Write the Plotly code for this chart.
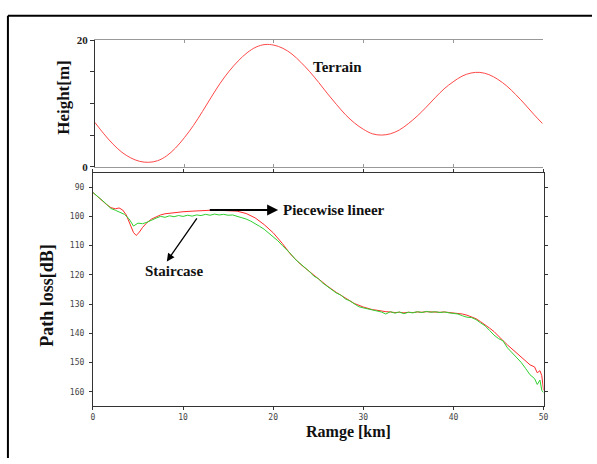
import plotly.graph_objects as go

# Terrain profile along the path
terrain_km = [0, 1, 2, 3, 4, 5, 6, 7, 8, 9, 10, 11, 12, 13, 14, 15, 16, 17, 18, 19, 20,
              21, 22, 23, 24, 25, 26, 27, 28, 29, 30, 31, 32, 33, 34, 35, 36, 37, 38, 39, 40,
              41, 42, 43, 44, 45, 46, 47, 48, 49, 50]
terrain_m = [7.0, 5.2, 3.6, 2.3, 1.4, 0.85, 0.7, 0.95, 1.7, 2.95, 4.6, 6.5, 8.7, 11.0, 13.2, 15.1,
             16.7, 18.0, 18.9, 19.3, 19.2, 18.7, 17.8, 16.5, 15.0, 13.3, 11.5, 9.8, 8.2, 6.9,
             5.9, 5.2, 5.0, 5.2, 5.8, 6.8, 8.0, 9.4, 10.9, 12.3, 13.4, 14.3, 14.8, 14.9, 14.55,
             13.8, 12.75, 11.4, 9.9, 8.3, 6.8]

# Path loss, piecewise linear terrain model
pl_linear_km = [0, 0.5, 1, 1.5, 2, 2.5, 2.9, 3.3, 3.7, 4.1, 4.5, 4.8, 5.1, 5.5, 6, 6.5, 7, 7.5, 8,
                9, 10, 11, 12, 13, 14, 15, 16, 17, 18, 19, 20, 21, 22, 23, 24, 25, 26, 27, 28,
                29, 30, 30.5, 31, 31.5, 32, 32.5, 33, 33.5, 34, 34.5, 35, 35.5, 36, 36.5, 37,
                37.5, 38, 38.5, 39, 39.5, 40, 40.5, 41, 41.5, 42, 42.5, 43, 43.5, 44, 44.5, 45,
                45.5, 46, 46.5, 47, 47.5, 48, 48.5, 49, 49.3, 49.6, 49.8, 50]
pl_linear_db = [91.8, 93.2, 94.6, 95.9, 97.0, 97.4, 97.1, 97.8, 99.5, 102.5, 105.5, 106.5, 105.6,
                103.8, 102.1, 100.9, 100.1, 99.5, 99.1,
                98.7, 98.4, 98.2, 98.0, 97.9, 97.9, 98.0, 98.2, 99.0, 100.5, 102.8, 105.6, 109.2,
                113.2, 116.3, 118.9, 121.5, 123.8, 126.0, 128.0, 129.8, 131.0,
                131.5, 131.9, 132.1, 132.4, 132.6, 132.7, 132.9, 132.8, 133.0, 132.8, 132.9,
                132.7, 132.8, 132.6, 132.7, 132.6, 132.8, 132.7, 132.9, 132.9, 133.2, 133.4,
                133.8, 134.3, 135.0, 136.0, 137.0, 138.2, 139.4, 140.8, 142.5, 144.0, 145.4,
                146.8, 148.0, 149.4, 150.8, 151.5, 153.5, 152.8, 154.5, 159.5]

# Path loss, staircase terrain model
pl_stair_km = [0, 0.5, 1, 1.5, 2, 2.5, 3, 3.5, 4, 4.5, 5, 5.5, 6, 6.5, 7, 7.5, 8, 8.5, 9, 9.5,
               10, 10.5, 11, 11.5, 12, 12.5, 13, 13.5, 14, 14.5, 15, 15.5, 16, 16.5, 17, 17.5,
               18, 18.5, 19, 19.5, 20, 20.5, 21, 21.5, 22, 22.5, 23, 23.5, 24, 24.5, 25, 25.5,
               26, 26.5, 27, 27.5, 28, 28.5, 29, 29.5, 30, 30.5, 31, 31.5, 32, 32.5, 33, 33.5,
               34, 34.5, 35, 35.5, 36, 36.5, 37, 37.5, 38, 38.5, 39, 39.5, 40, 40.5, 41, 41.5,
               42, 42.5, 43, 43.5, 44, 44.5, 45, 45.5, 46, 46.5, 47, 47.5, 48, 48.5, 49, 49.3,
               49.6, 49.8, 50]
pl_stair_db = [91.8, 93.0, 94.4, 95.8, 97.3, 97.9, 98.5, 99.3, 100.8, 103.3, 102.3, 102.5, 102.0,
               101.2, 100.6, 100.0, 100.3, 99.8, 100.1, 99.7, 100.0, 99.6, 99.9, 99.5, 99.7,
               99.3, 99.6, 99.2, 99.5, 99.3, 99.6, 99.5, 99.9, 100.3, 100.9, 101.6, 102.4,
               103.4, 104.4, 105.6, 106.8, 108.3, 109.9, 111.3, 113.0, 114.8, 116.1, 117.7,
               118.8, 120.4, 121.3, 122.8, 123.9, 124.9, 126.2, 126.9, 128.2, 128.9, 129.9,
               130.9, 131.3, 131.6, 131.9, 132.3, 132.7, 133.4, 132.6, 133.1, 132.7, 133.3,
               132.8, 133.0, 132.6, 132.9, 132.5, 132.8, 132.6, 132.9, 132.7, 133.0, 133.1,
               133.4, 134.0, 134.5, 134.6, 135.3, 136.4, 137.4, 139.0, 140.6, 141.8, 142.6,
               145.0, 146.6, 148.3, 149.9, 152.0, 154.2, 155.5, 157.5, 156.0, 159.5, 160.3]

range_ticks = [0, 10, 20, 30, 40, 50]
height_ticks = [0, 5, 10, 15, 20]
height_ticktext = ["0", "", "", "", "20"]
loss_ticks = [90, 100, 110, 120, 130, 140, 150, 160]

W, H = 597, 464
SERIF = "'Liberation Serif', 'Times New Roman', Times, serif"
MONO = "'DejaVu Sans Mono', monospace"


def px_x(p):
    return p / W


def px_y(p):
    return (H - p) / H


fig = go.Figure()

fig.add_trace(go.Scatter(x=terrain_km, y=terrain_m, mode="lines", line_shape="spline",
                         line=dict(color="#ff4848", width=1), xaxis="x", yaxis="y",
                         showlegend=False, hoverinfo="skip"))
fig.add_trace(go.Scatter(x=pl_linear_km, y=pl_linear_db, mode="lines",
                         line=dict(color="#ff2a2a", width=1), xaxis="x2", yaxis="y2",
                         showlegend=False))
fig.add_trace(go.Scatter(x=pl_stair_km, y=pl_stair_db, mode="lines",
                         line=dict(color="#2fd02f", width=1), xaxis="x2", yaxis="y2",
                         showlegend=False))

mono_font = dict(family=MONO, size=8, color="#444")

fig.update_layout(
    width=W, height=H,
    margin=dict(l=0, r=0, t=0, b=0),
    paper_bgcolor="white", plot_bgcolor="white",
    xaxis=dict(domain=[px_x(94), px_x(547)], anchor="y", range=[0, 50],
               tickvals=range_ticks, ticks="inside", ticklen=3, tickcolor="#999",
               showticklabels=False, showline=True, linecolor="#999", linewidth=1,
               mirror="ticks", showgrid=False, zeroline=False),
    yaxis=dict(domain=[px_y(165), px_y(35)], anchor="x", range=[0, 20],
               tickvals=height_ticks, ticktext=height_ticktext, ticks="outside", ticklen=4,
               tickcolor="#333", showline=True, linecolor="#333", linewidth=1,
               tickfont=dict(family=SERIF, size=11, color="#222", weight="bold"),
               showgrid=False, zeroline=False),
    yaxis3=dict(overlaying="y", side="right", anchor="x", range=[0, 20],
                tickvals=height_ticks, ticks="outside", ticklen=3, tickcolor="#999",
                showticklabels=False, showline=True, linecolor="#999", linewidth=1,
                showgrid=False, zeroline=False),
    xaxis2=dict(domain=[px_x(92), px_x(548)], anchor="y2", range=[0, 50],
                tickvals=range_ticks, ticks="outside", ticklen=3, tickcolor="#333",
                showline=True, linecolor="#333", linewidth=1, mirror="ticks",
                tickfont=mono_font, ticklabelstandoff=0, showgrid=False, zeroline=False),
    yaxis2=dict(domain=[px_y(411), px_y(171)], anchor="x2", range=[165, 85],
                tickvals=loss_ticks, ticks="outside", ticklen=3, tickcolor="#333",
                showline=True, linecolor="#333", linewidth=1, mirror="ticks",
                tickfont=mono_font, ticklabelstandoff=3, showgrid=False, zeroline=False),
)

title_font = dict(family=SERIF, color="#111", weight="bold")
centered = dict(xanchor="center", yanchor="middle", showarrow=False)
annotations = [
    dict(text="Height[m]", x=px_x(62), y=px_y(94), xref="paper", yref="paper",
         textangle=-90, font=dict(size=17, **title_font), **centered),
    dict(text="Path loss[dB]", x=px_x(45.5), y=px_y(296.5), xref="paper", yref="paper",
         textangle=-90, font=dict(size=18, **title_font), **centered),
    dict(text="Ramge [km]", x=px_x(351), y=px_y(437), xref="paper", yref="paper",
         font=dict(size=16, **title_font), **centered),
    dict(text="Terrain", x=24.1, y=15.8, xref="x", yref="y", xanchor="left",
         yanchor="middle", showarrow=False, font=dict(size=15, **title_font)),
    dict(text="Piecewise lineer", x=20.9, y=97.8, xref="x2", yref="y2", xanchor="left",
         yanchor="middle", showarrow=False, font=dict(size=15, **title_font)),
    dict(text="Staircase", x=9.0, y=118.6, xref="x2", yref="y2",
         font=dict(size=15, **title_font), **centered),
    # arrow from the piecewise-linear curve to its label
    dict(text="", x=20.55, y=97.8, xref="x2", yref="y2", ax=12.8, ay=97.8,
         axref="x2", ayref="y2", showarrow=True, arrowhead=2, arrowsize=1.1,
         arrowwidth=2, arrowcolor="black"),
    # arrow from the staircase curve to its label
    dict(text="", x=8.2, y=115.4, xref="x2", yref="y2", ax=11.65, ay=100.2,
         axref="x2", ayref="y2", showarrow=True, arrowhead=2, arrowsize=1.2,
         arrowwidth=1.3, arrowcolor="black"),
]
fig.update_layout(annotations=annotations)

# outer frame (left and top edges)
fig.add_shape(type="line", xref="paper", yref="paper", x0=px_x(6), x1=1.0,
              y0=px_y(10), y1=px_y(10), line=dict(color="black", width=2))
fig.add_shape(type="line", xref="paper", yref="paper", x0=px_x(6), x1=px_x(6),
              y0=px_y(10), y1=0, line=dict(color="black", width=2))

fig.write_html("out.html")
